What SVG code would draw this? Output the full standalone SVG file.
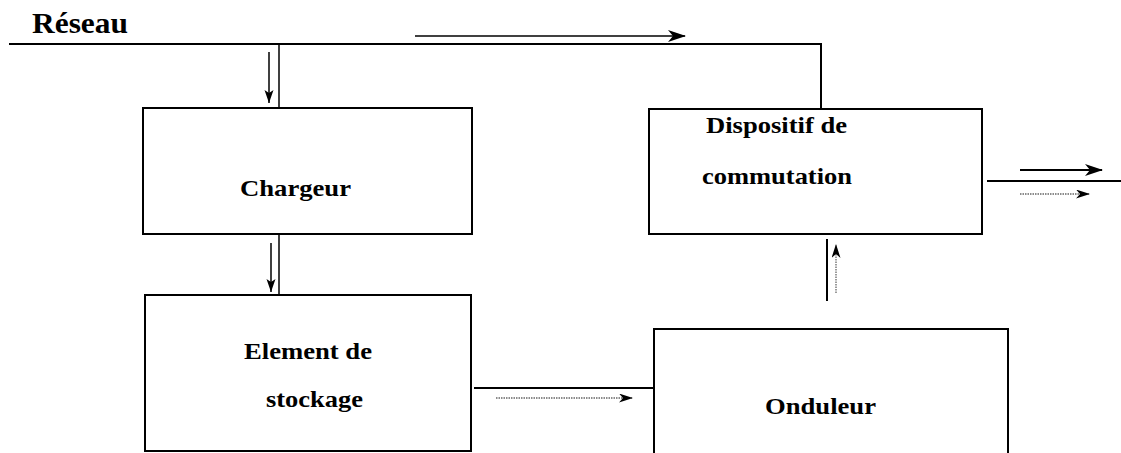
<svg xmlns="http://www.w3.org/2000/svg" width="1121" height="453" viewBox="0 0 1121 453">
<style>
.box{fill:#fff;stroke:#000;stroke-width:2}
.lbl{font-family:"Liberation Serif","Times New Roman",serif;font-weight:bold;font-size:24px;fill:#000}
.wire{fill:none;stroke:#000;stroke-width:2}
.thin{fill:none;stroke:#000;stroke-width:1.5}
.dot{fill:none;stroke:#666;stroke-width:1.3;stroke-dasharray:1.5 1}
</style>
<defs>
<marker id="stealth" viewBox="0 0 18 12" refX="17" refY="6" markerWidth="18" markerHeight="12" markerUnits="userSpaceOnUse" orient="auto">
<path d="M0,0 L18,6 L0,12 L5,6 Z" fill="#000"/>
</marker>
<marker id="stealthS" viewBox="0 0 14 9" refX="13" refY="4.5" markerWidth="14" markerHeight="9" markerUnits="userSpaceOnUse" orient="auto">
<path d="M0,0 L14,4.5 L0,9 L4,4.5 Z" fill="#000"/>
</marker>
<marker id="vee" viewBox="0 0 14 10" refX="13" refY="5" markerWidth="14" markerHeight="10" markerUnits="userSpaceOnUse" orient="auto">
<path d="M0,0.5 L13,5 L0,9.5 L3,5 Z" fill="#000"/>
</marker>
</defs>
<text x="32" y="33" class="lbl" style="font-size:29px" textLength="96" lengthAdjust="spacingAndGlyphs">Réseau</text>
<g id="connectors">
<polyline class="wire" points="9,44 821,44 821,109"/>
<line class="thin" x1="279" y1="44" x2="279" y2="108"/>
<line class="thin" x1="415" y1="36" x2="685" y2="36" marker-end="url(#stealth)"/>
<line class="thin" x1="269" y1="52" x2="269" y2="103" marker-end="url(#vee)"/>
<line class="thin" x1="279" y1="234" x2="279" y2="299"/>
<line class="thin" x1="271" y1="243" x2="271" y2="292" marker-end="url(#vee)"/>
<line class="wire" x1="474" y1="388" x2="654" y2="388"/>
<line class="dot" x1="496" y1="398" x2="632" y2="398" marker-end="url(#stealthS)"/>
<line class="wire" x1="827" y1="239" x2="827" y2="301"/>
<line class="dot" x1="836" y1="293" x2="836" y2="245" marker-end="url(#stealthS)"/>
<line class="wire" x1="987" y1="181" x2="1121" y2="181"/>
<line class="wire" x1="1020" y1="170" x2="1102" y2="170" marker-end="url(#stealth)"/>
<line class="dot" x1="1020" y1="194" x2="1089" y2="194" marker-end="url(#stealthS)"/>
</g>
<g id="chargeur">
<rect class="box" x="143" y="108" width="329" height="126"/>
<text x="240" y="196" class="lbl" textLength="111" lengthAdjust="spacingAndGlyphs">Chargeur</text>
</g>
<g id="dispositif">
<rect class="box" x="649" y="109" width="333" height="125"/>
<text x="706" y="133" class="lbl" textLength="141" lengthAdjust="spacingAndGlyphs">Dispositif de</text>
<text x="702" y="184" class="lbl" textLength="150" lengthAdjust="spacingAndGlyphs">commutation</text>
</g>
<g id="stockage">
<rect class="box" x="145" y="295" width="326" height="156"/>
<text x="244" y="359" class="lbl" textLength="128" lengthAdjust="spacingAndGlyphs">Element de</text>
<text x="266" y="407" class="lbl" textLength="97" lengthAdjust="spacingAndGlyphs">stockage</text>
</g>
<g id="onduleur">
<rect class="box" x="654" y="329" width="354" height="140"/>
<text x="765" y="414" class="lbl" textLength="111" lengthAdjust="spacingAndGlyphs">Onduleur</text>
</g>
</svg>
